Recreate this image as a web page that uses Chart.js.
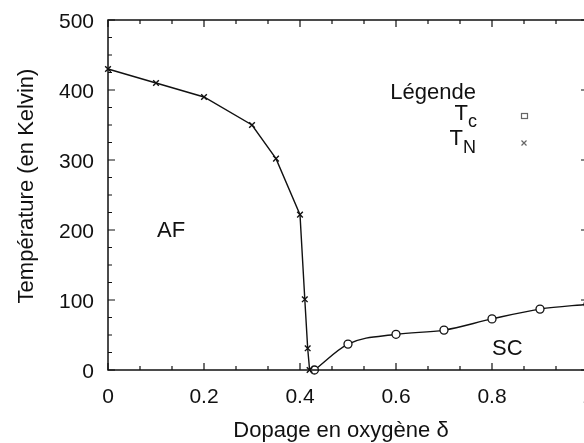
<!DOCTYPE html>
<html>
<head>
<meta charset="utf-8">
<script src="https://cdn.jsdelivr.net/npm/chart.js@4"></script>
<style>
  html, body { margin: 0; padding: 0; background: #fff; overflow: hidden; }
  #wrap { width: 600px; height: 443px; }
</style>
</head>
<body>
<div id="wrap"><canvas id="phaseChart" width="600" height="443"></canvas></div>
<script>
// T_N (antiferro), crosses
var dopingTN = [0, 0.1, 0.2, 0.3, 0.35, 0.4, 0.41, 0.416, 0.42];
var tempTN   = [430, 410, 390, 350, 302, 222, 101, 31, 0];
// T_c (supra), circles
var dopingTc = [0.43, 0.5, 0.6, 0.7, 0.8, 0.9, 1.0];
var tempTc   = [0, 37, 51, 57, 73, 87, 94];

var xTicks = [0, 0.2, 0.4, 0.6, 0.8, 1];
var yTicks = [0, 100, 200, 300, 400, 500];

const FONT = '"Liberation Sans", Arial, sans-serif';
const INK = '#111';

function toPoints(xs, ys){
    return xs.map((x, i) => ({x: x, y: ys[i]}));
}

// T + subscript, right-aligned at xr
function subLabel(ctx, main, sub, xr, base, subDrop){
    ctx.font = '18px ' + FONT;
    const sw = ctx.measureText(sub).width;
    ctx.textAlign = 'right';
    ctx.fillText(sub, xr, base + subDrop);
    ctx.font = '22px ' + FONT;
    ctx.fillText(main, xr - sw, base);
}

// frame, inward ticks, tick labels and texts
var decorPlugin = {
    id: 'decor',
    afterDraw: function(chart){
        const ctx = chart.ctx;
        const xs = chart.scales.x, ys = chart.scales.y;
        const a = chart.chartArea;
        ctx.save();
        ctx.strokeStyle = INK;
        ctx.lineWidth = 1.5;
        ctx.strokeRect(a.left, a.top, a.right - a.left, a.bottom - a.top);

        ctx.lineWidth = 1.2;
        ctx.beginPath();
        // y ticks every 25, major every 100
        for(let v = 0; v <= 500; v += 25){
            const py = ys.getPixelForValue(v);
            const len = (v % 100 === 0) ? 7 : 4;
            ctx.moveTo(a.left, py); ctx.lineTo(a.left + len, py);
            ctx.moveTo(a.right, py); ctx.lineTo(a.right - len, py);
        }
        // x ticks every 1/15, major every 0.2
        for(let k = 0; k <= 15; k++){
            const px = xs.getPixelForValue(k / 15);
            const len = (k % 3 === 0) ? 7 : 4;
            ctx.moveTo(px, a.bottom); ctx.lineTo(px, a.bottom - len);
            ctx.moveTo(px, a.top); ctx.lineTo(px, a.top + len);
        }
        ctx.stroke();

        ctx.fillStyle = INK;
        ctx.textBaseline = 'alphabetic';

        // tick labels
        ctx.font = '21px ' + FONT;
        ctx.textAlign = 'center';
        xTicks.forEach(v => ctx.fillText(String(v), xs.getPixelForValue(v), 403));
        ctx.textAlign = 'right';
        yTicks.forEach(v => ctx.fillText(String(v), 94, ys.getPixelForValue(v) + 7.5));

        ctx.font = '22px ' + FONT;
        // axis titles
        ctx.textAlign = 'center';
        ctx.fillText('Dopage en oxygène δ', 341, 437);
        ctx.save();
        ctx.translate(33, 186);
        ctx.rotate(-Math.PI / 2);
        ctx.fillText('Température (en Kelvin)', 0, 0);
        ctx.restore();

        // region labels
        ctx.textAlign = 'left';
        ctx.fillText('AF', 157, 237);
        ctx.fillText('SC', 492, 355);

        // legend
        ctx.textAlign = 'right';
        ctx.fillText('Légende', 476, 99);
        subLabel(ctx, 'T', 'c', 477, 120, 7);
        subLabel(ctx, 'T', 'N', 476, 145, 8);

        ctx.strokeStyle = '#666';
        ctx.lineWidth = 1.2;
        ctx.strokeRect(521.5, 113.5, 6, 5);
        ctx.beginPath();
        ctx.moveTo(521.5, 140.5); ctx.lineTo(526.5, 145.5);
        ctx.moveTo(526.5, 140.5); ctx.lineTo(521.5, 145.5);
        ctx.stroke();
        ctx.restore();
    }
};

var phaseChart = new Chart(document.getElementById('phaseChart'), {
    type: 'scatter',
    data: {
        datasets: [
            {
                label: 'T_N',
                data: toPoints(dopingTN, tempTN),
                showLine: true,
                borderColor: INK,
                borderWidth: 1.4,
                tension: 0,
                pointStyle: 'crossRot',
                pointRadius: 4,
                pointBorderColor: INK,
                pointBorderWidth: 1.4
            },
            {
                label: 'T_c',
                data: toPoints(dopingTc, tempTc),
                showLine: true,
                borderColor: INK,
                borderWidth: 1.4,
                cubicInterpolationMode: 'monotone',
                pointStyle: 'circle',
                pointRadius: 4,
                pointBackgroundColor: '#fff',
                pointBorderColor: INK,
                pointBorderWidth: 1.3
            }
        ]
    },
    options: {
        responsive: false,
        animation: false,
        clip: false,
        layout: { padding: { left: 0, right: 12, top: 20, bottom: 0 } },
        plugins: { legend: { display: false }, tooltip: { enabled: false } },
        scales: {
            x: {
                type: 'linear',
                min: 0, max: 1,
                grid: { display: false },
                border: { display: false },
                ticks: { display: false, stepSize: 0.2 },
                afterFit: function(scale){ scale.height = 73; scale.paddingRight = 0; scale.paddingLeft = 0; }
            },
            y: {
                type: 'linear',
                min: 0, max: 500,
                grid: { display: false },
                border: { display: false },
                ticks: { display: false, stepSize: 100 },
                afterFit: function(scale){ scale.width = 108; scale.paddingTop = 0; scale.paddingBottom = 0; }
            }
        }
    },
    plugins: [decorPlugin]
});
</script>
</body>
</html>
